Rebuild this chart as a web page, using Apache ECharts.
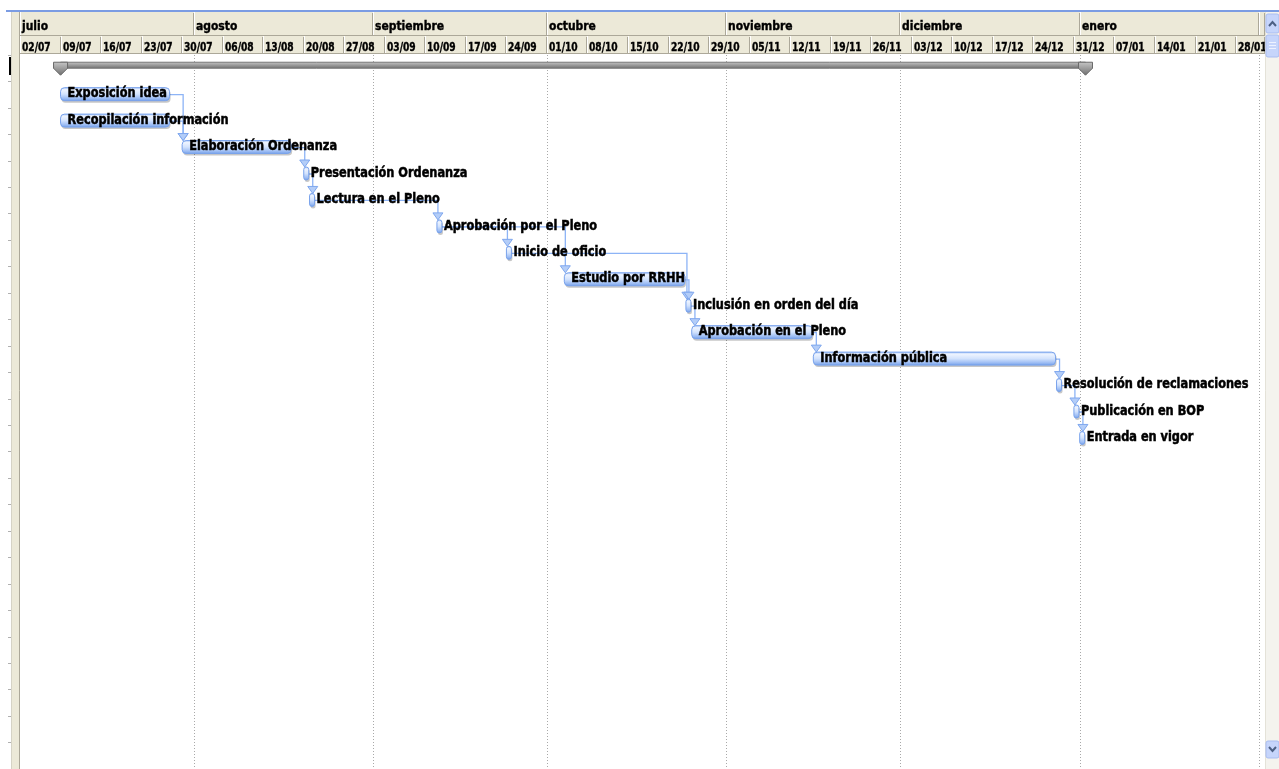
<!DOCTYPE html>
<html>
<head>
<meta charset="utf-8">
<script src="https://cdn.jsdelivr.net/npm/echarts@6/dist/echarts.min.js"></script>
<style>
  html, body { margin: 0; padding: 0; background: #fff; }
  #chart { width: 1279px; height: 769px; }
</style>
</head>
<body>
<div id="chart"></div>
<script>
// project tasks (row 1..n, row 0 is the project summary)
const taskNames = [
  'Exposición idea', 'Recopilación información', 'Elaboración Ordenanza',
  'Presentación Ordenanza', 'Lectura en el Pleno', 'Aprobación por el Pleno',
  'Inicio de oficio', 'Estudio por RRHH', 'Inclusión en orden del día',
  'Aprobación en el Pleno', 'Información pública', 'Resolución de reclamaciones',
  'Publicación en BOP', 'Entrada en vigor'
]
const taskStarts = [
  '2007-07-09', '2007-07-09', '2007-07-30', '2007-08-20', '2007-08-21', '2007-09-12',
  '2007-09-24', '2007-10-04', '2007-10-25', '2007-10-26', '2007-11-16', '2007-12-28',
  '2007-12-31', '2008-01-01'
]
const taskEnds = [
  '2007-07-28', '2007-07-28', '2007-08-18', '2007-08-21', '2007-08-22', '2007-09-13',
  '2007-09-25', '2007-10-25', '2007-10-26', '2007-11-16', '2007-12-28', '2007-12-29',
  '2008-01-01', '2008-01-02'
]
// predecessor -> successor (task indexes)
const taskLinks = [
  [0, 2], [1, 2], [2, 3], [3, 4], [4, 5], [5, 6], [5, 7],
  [6, 8], [7, 8], [8, 9], [9, 10], [10, 11], [11, 12], [12, 13]
]
const summaryStart = '2007-07-09'
const summaryEnd = '2008-01-02'

const monthNames = ['julio', 'agosto', 'septiembre', 'octubre', 'noviembre', 'diciembre', 'enero', 'febrero']
const monthStarts = ['2007-07-01', '2007-08-01', '2007-09-01', '2007-10-01', '2007-11-01', '2007-12-01', '2008-01-01', '2008-02-01']
const weekLabels = [
  '02/07', '09/07', '16/07', '23/07', '30/07', '06/08', '13/08', '20/08', '27/08',
  '03/09', '10/09', '17/09', '24/09', '01/10', '08/10', '15/10', '22/10', '29/10',
  '05/11', '12/11', '19/11', '26/11', '03/12', '10/12', '17/12', '24/12', '31/12',
  '07/01', '14/01', '21/01', '28/01'
]
const viewStart = '2007-07-02'
const viewEnd = '2008-02-02'

const DAY = 86400000
function toMs(s) {
  const [y, m, d] = s.split('-').map(Number)
  return Date.UTC(y, m - 1, d)
}
function weekStart(label) {
  const d = +label.slice(0, 2)
  const m = +label.slice(3, 5)
  return Date.UTC(m >= 7 ? 2007 : 2008, m - 1, d)
}

const FONT = '"DejaVu Sans Condensed", "DejaVu Sans", sans-serif'
const BAR_FILL = new echarts.graphic.LinearGradient(0, 0, 0, 1, [
  { offset: 0, color: '#9fc0f7' },
  { offset: 0.18, color: '#eef4ff' },
  { offset: 0.5, color: '#d3e3fd' },
  { offset: 0.8, color: '#9dbdf4' },
  { offset: 1, color: '#6e9be6' }
])
const SUM_FILL = new echarts.graphic.LinearGradient(0, 0, 0, 1, [
  { offset: 0, color: '#c8c8c8' },
  { offset: 0.5, color: '#9a9a9a' },
  { offset: 1, color: '#6c6c6c' }
])

function barRight(x0, x1) {
  return x0 + Math.max(x1 - x0 - 1, 5)
}

const taskData = taskNames.map((n, i) => [toMs(taskStarts[i]), toMs(taskEnds[i]), i + 1.5])
const linkData = taskLinks.map(([p, s]) => [
  toMs(taskStarts[p]), toMs(taskEnds[p]), p + 1.5, toMs(taskStarts[s]), s + 1.5
])
const monthData = monthNames.map((n, i) => [
  toMs(monthStarts[i]), i + 1 < monthStarts.length ? toMs(monthStarts[i + 1]) : toMs(viewEnd), 0.5
])
const weekData = weekLabels.map(l => [weekStart(l), weekStart(l) + 7 * DAY, 0.5])
const gridLineData = monthStarts.map(s => [toMs(s), 0])

function renderTask(params, api) {
  const a = api.coord([api.value(0), api.value(2)])
  const b = api.coord([api.value(1), api.value(2)])
  const left = a[0]
  const w = barRight(a[0], b[0]) - left
  const cy = a[1]
  return {
    type: 'group',
    children: [
      { type: 'rect', shape: { x: left + 1, y: cy - 5, width: w, height: 13, r: 4 }, style: { fill: 'rgba(0,0,0,0.22)' } },
      { type: 'rect', shape: { x: left, y: cy - 7, width: w, height: 13, r: 4 }, style: { fill: BAR_FILL, stroke: '#78a2ec', lineWidth: 1 } },
      {
        type: 'text', x: left + 7, y: cy - 1, scaleX: 0.9, z2: 10,
        style: {
          text: taskNames[params.dataIndex], fill: '#000', stroke: '#000', lineWidth: 0.5,
          font: 'bold 14px ' + FONT, verticalAlign: 'middle'
        }
      }
    ]
  }
}

function renderLink(params, api) {
  const ps = api.coord([api.value(0), api.value(2)])
  const pe = api.coord([api.value(1), api.value(2)])
  const ss = api.coord([api.value(3), api.value(4)])
  const px = barRight(ps[0], pe[0])
  const py = ps[1]
  const ex = Math.max(ss[0] + 1, px + 4)
  const sy = ss[1]
  return {
    type: 'group',
    children: [
      { type: 'polyline', shape: { points: [[px, py], [ex, py], [ex, sy - 13]] }, style: { stroke: '#8db4f6', lineWidth: 1.3, fill: null } },
      { type: 'polygon', shape: { points: [[ex - 5, sy - 14], [ex + 5, sy - 14], [ex, sy - 7]] }, style: { fill: '#b3cdf8', stroke: '#7fa7ee', lineWidth: 1 } }
    ]
  }
}

function renderSummary(params, api) {
  const a = api.coord([api.value(0), 0.5])
  const b = api.coord([api.value(1), 0.5])
  const top = a[1] - 6
  const cap = x => ({
    type: 'polygon',
    shape: { points: [[x - 7, top], [x + 7, top], [x + 7, top + 6], [x, top + 13], [x - 7, top + 6]] },
    style: { fill: SUM_FILL, stroke: '#6a6a6a', lineWidth: 1 }
  })
  return {
    type: 'group',
    children: [
      { type: 'rect', shape: { x: a[0], y: top, width: b[0] - a[0], height: 6 }, style: { fill: SUM_FILL, stroke: '#777', lineWidth: 1 } },
      cap(a[0]),
      cap(b[0])
    ]
  }
}

function renderGridLine(params, api) {
  const cs = params.coordSys
  const x = Math.round(api.coord([api.value(0), 0])[0]) + 0.5
  if (x < cs.x + 2 || x > cs.x + cs.width) return null
  return {
    type: 'line',
    shape: { x1: x, y1: cs.y, x2: x, y2: cs.y + cs.height },
    style: { stroke: '#a9a9a9', lineWidth: 1, lineDash: [1, 2] }
  }
}

function headerCell(labels, fontSize, sx) {
  return function (params, api) {
    const cs = params.coordSys
    const x0 = Math.max(Math.round(api.coord([api.value(0), 0.5])[0]), cs.x)
    const x1 = Math.min(Math.round(api.coord([api.value(1), 0.5])[0]), cs.x + cs.width)
    if (x1 <= x0) return null
    const y0 = cs.y
    const h = cs.height
    const children = [
      { type: 'rect', shape: { x: x0, y: y0, width: x1 - x0, height: h }, style: { fill: '#ece9d8' } },
      { type: 'line', shape: { x1: x0 + 0.5, y1: y0, x2: x0 + 0.5, y2: y0 + h }, style: { stroke: '#ffffff', lineWidth: 1 } },
      { type: 'line', shape: { x1: x1 - 0.5, y1: y0 + 1, x2: x1 - 0.5, y2: y0 + h - 1 }, style: { stroke: '#aca899', lineWidth: 1 } },
      { type: 'line', shape: { x1: x0, y1: y0 + h - 0.5, x2: x1, y2: y0 + h - 0.5 }, style: { stroke: '#aca899', lineWidth: 1 } }
    ]
    if (x1 - x0 > 20) {
      children.push({
        type: 'text', x: x0 + 2, y: y0 + h / 2 + 3, scaleX: sx,
        style: {
          text: labels[params.dataIndex], fill: '#000', stroke: '#000', lineWidth: 0.4,
          font: 'bold ' + fontSize + 'px ' + FONT, verticalAlign: 'middle'
        }
      })
    }
    return {
      type: 'group',
      clipPath: { type: 'rect', shape: { x: x0, y: y0, width: x1 - x0, height: h } },
      children
    }
  }
}

const chart = echarts.init(document.getElementById('chart'))
const xBase = { type: 'time', min: toMs(viewStart), max: toMs(viewEnd), show: false }

chart.setOption({
  animation: false,
  backgroundColor: '#fff',
  grid: [
    { left: 20, right: 14, top: 55, height: 720 },
    { left: 20, right: 14, top: 12, height: 24 },
    { left: 20, right: 14, top: 36, height: 18 }
  ],
  xAxis: [
    Object.assign({ gridIndex: 0 }, xBase),
    Object.assign({ gridIndex: 1 }, xBase),
    Object.assign({ gridIndex: 2 }, xBase)
  ],
  yAxis: [
    {
      gridIndex: 0, type: 'value', inverse: true, min: 0, max: 27, interval: 1,
      axisLine: { show: false },
      axisLabel: { show: false },
      splitLine: { show: false },
      axisTick: { show: true, length: 12, lineStyle: { color: '#b0b0b0' } }
    },
    { gridIndex: 1, type: 'value', min: 0, max: 1, show: false },
    { gridIndex: 2, type: 'value', min: 0, max: 1, show: false }
  ],
  series: [
    { type: 'custom', name: 'grid', xAxisIndex: 0, yAxisIndex: 0, renderItem: renderGridLine, data: gridLineData, z: 1, silent: true },
    { type: 'custom', name: 'links', xAxisIndex: 0, yAxisIndex: 0, renderItem: renderLink, data: linkData, z: 2, silent: true },
    { type: 'custom', name: 'summary', xAxisIndex: 0, yAxisIndex: 0, renderItem: renderSummary, data: [[toMs(summaryStart), toMs(summaryEnd), 0.5]], z: 3 },
    { type: 'custom', name: 'tasks', xAxisIndex: 0, yAxisIndex: 0, renderItem: renderTask, data: taskData, z: 4 },
    { type: 'custom', name: 'months', xAxisIndex: 1, yAxisIndex: 1, renderItem: headerCell(monthNames, 13, 0.92), data: monthData, z: 5 },
    { type: 'custom', name: 'weeks', xAxisIndex: 2, yAxisIndex: 2, renderItem: headerCell(weekLabels, 13, 0.78), data: weekData, z: 5 }
  ],
  // window chrome: splitter, top border and scrollbar
  graphic: [
    { type: 'rect', z: 50, shape: { x: 6, y: 10, width: 1273, height: 2 }, style: { fill: '#7b9ce3' } },
    { type: 'rect', z: 50, shape: { x: 11, y: 12, width: 9, height: 757 }, style: { fill: '#ece9d8', stroke: null } },
    { type: 'line', z: 51, shape: { x1: 11.5, y1: 12, x2: 11.5, y2: 769 }, style: { stroke: '#d6d3c6' } },
    { type: 'line', z: 51, shape: { x1: 19.5, y1: 12, x2: 19.5, y2: 769 }, style: { stroke: '#aca899' } },
    { type: 'rect', z: 51, shape: { x: 9, y: 57, width: 2, height: 18 }, style: { fill: '#000' } },
    { type: 'rect', z: 50, shape: { x: 1265, y: 12, width: 14, height: 757 }, style: { fill: '#f4f3ee' } },
    { type: 'line', z: 51, shape: { x1: 1265.5, y1: 12, x2: 1265.5, y2: 769 }, style: { stroke: '#e4e2d8' } },
    { type: 'rect', z: 52, shape: { x: 1266, y: 14, width: 13, height: 19, r: 2 }, style: { fill: '#c6d5fb', stroke: '#a9bdf1' } },
    { type: 'polyline', z: 53, shape: { points: [[1269, 26], [1272.5, 22], [1276, 26]] }, style: { stroke: '#4d6185', lineWidth: 2 } },
    { type: 'rect', z: 52, shape: { x: 1266, y: 35, width: 13, height: 22, r: 2 }, style: { fill: '#c6d5fb', stroke: '#a9bdf1' } },
    { type: 'line', z: 53, shape: { x1: 1269, y1: 42.5, x2: 1276, y2: 42.5 }, style: { stroke: '#eef3ff' } },
    { type: 'line', z: 53, shape: { x1: 1269, y1: 45.5, x2: 1276, y2: 45.5 }, style: { stroke: '#eef3ff' } },
    { type: 'line', z: 53, shape: { x1: 1269, y1: 48.5, x2: 1276, y2: 48.5 }, style: { stroke: '#eef3ff' } },
    { type: 'rect', z: 52, shape: { x: 1266, y: 741, width: 13, height: 17, r: 2 }, style: { fill: '#c6d5fb', stroke: '#a9bdf1' } },
    { type: 'polyline', z: 53, shape: { points: [[1269, 747], [1272.5, 751], [1276, 747]] }, style: { stroke: '#4d6185', lineWidth: 2 } }
  ]
})
</script>
</body>
</html>
